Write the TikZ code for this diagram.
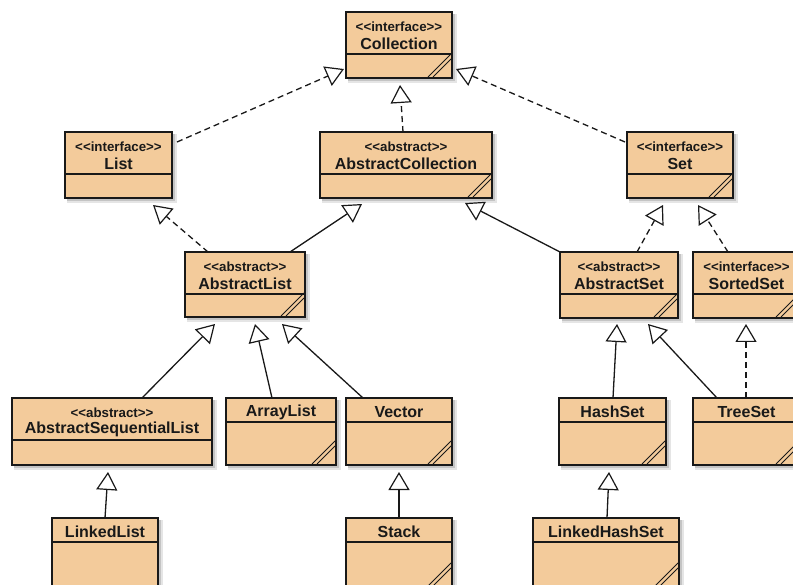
\documentclass[tikz,border=0pt]{standalone}
\usepackage{fontspec}
\setmainfont{Liberation Sans}
\usetikzlibrary{arrows.meta,calc}
\definecolor{boxfill}{RGB}{243,203,155}
\definecolor{ink}{RGB}{25,25,25}
\tikzset{
  thickcls/.style={draw=ink, fill=boxfill, line width=2.8pt, inner sep=0pt, outer sep=0pt, rectangle},
  thincls/.style={draw=ink, fill=boxfill, line width=1.3pt, inner sep=0pt, outer sep=0pt, rectangle},
  divline/.style={draw=ink, line width=1.1pt},
  hashline/.style={draw=ink, line width=0.8pt},
  stereotxt/.style={inner sep=0pt, text=ink, font=\fontsize{13.3}{15}\selectfont\bfseries},
  titletxt/.style={inner sep=0pt, text=ink, font=\fontsize{16}{18}\selectfont\bfseries},
  gen/.style={draw=ink, line width=1.3pt, -{Triangle[open, length=18pt, width=21pt, line width=1.2pt]}},
  real/.style={gen, dash pattern=on 6pt off 4pt},
  shadowA/.style={fill=black, opacity=0.14},
  shadowB/.style={fill=black, opacity=0.10}
}
\newcommand\ltlt{<\kern0pt<\kern0pt}
\newcommand\gtgt{\kern0pt>\kern0pt>}
% box: name, left, top, right, bottom, style
\newcommand\clsbox[6]{%
  \fill[shadowB] (#2+2,#3+2) rectangle (#4+5,#5+5);
  \fill[shadowA] (#2+2,#3+2) rectangle (#4+3,#5+3);
  \node[#6, anchor=north west, minimum width={#4-#2}, minimum height={#5-#3}] (#1) at (#2,#3) {};
}
% divider: name, offset from top
\newcommand\clsdiv[2]{%
  \draw[divline] ($(#1.north west)+(0,#2)$) -- ($(#1.north east)+(0,#2)$);
}
\newcommand\clshash[1]{%
  \draw[hashline] ($(#1.south east)+(-1,-24)$) -- ($(#1.south east)+(-24,-1)$);
  \draw[hashline] ($(#1.south east)+(-1,-19)$) -- ($(#1.south east)+(-19,-1)$);
}
% stereotyped class: name, stereotype, title
\newcommand\clsst[3]{%
  \node[stereotxt] (#1-st) at ($(#1.north)+(0,15)$) {\ltlt#2\gtgt};
  \node[titletxt] (#1-ti) at ($(#1.north)+(0,31.5)$) {#3};
  \clsdiv{#1}{42}
}
% plain class: name, title
\newcommand\clspl[2]{%
  \node[titletxt] (#1-ti) at ($(#1.north)+(0,14)$) {#2};
  \clsdiv{#1}{24}
}
\begin{document}
\begin{tikzpicture}[x=1pt, y=-1pt]
\useasboundingbox (0,0) rectangle (793,585);
\clip (0,0) rectangle (793,585);
\fill[white] (0,0) rectangle (793,585);

% row 0
\clsbox{coll}{346}{12}{452}{78}{thickcls}
\clsst{coll}{interface}{Collection}\clshash{coll}

% row 1
\clsbox{list}{65}{132}{172}{198}{thincls}
\clsst{list}{interface}{List}
\clsbox{abscoll}{320}{132}{492}{198}{thickcls}
\clsst{abscoll}{abstract}{AbstractCollection}\clshash{abscoll}
\clsbox{set}{627}{132}{733}{198}{thickcls}
\clsst{set}{interface}{Set}\clshash{set}

% row 2
\clsbox{abslist}{185}{252}{305}{317}{thickcls}
\clsst{abslist}{abstract}{AbstractList}\clshash{abslist}
\clsbox{absset}{560}{252}{678}{318}{thickcls}
\clsst{absset}{abstract}{AbstractSet}\clshash{absset}
\clsbox{sortedset}{693}{252}{800}{318}{thickcls}
\clsst{sortedset}{interface}{SortedSet}\clshash{sortedset}

% row 3
\clsbox{asl}{12}{398}{212}{465}{thincls}
\clsst{asl}{abstract}{AbstractSequentialList}
\clsbox{arraylist}{226}{398}{336}{465}{thickcls}
\clspl{arraylist}{ArrayList}\clshash{arraylist}
\clsbox{vector}{346}{398}{452}{465}{thickcls}
\clspl{vector}{Vector}\clshash{vector}
\clsbox{hashset}{559}{398}{666}{465}{thickcls}
\clspl{hashset}{HashSet}\clshash{hashset}
\clsbox{treeset}{693}{398}{800}{465}{thickcls}
\clspl{treeset}{TreeSet}\clshash{treeset}

% row 4
\clsbox{linkedlist}{52}{518}{158}{592}{thincls}
\clspl{linkedlist}{LinkedList}
\clsbox{stack}{346}{518}{452}{587}{thickcls}
\clspl{stack}{Stack}\clshash{stack}
\clsbox{lhs}{533}{518}{679}{587}{thickcls}
\clspl{lhs}{LinkedHashSet}\clshash{lhs}

% connectors
\draw[real] ($(list.north east)+(5,10)$) -- ($(coll.south west)+(-2,-9)$);
\draw[real] ($(set.north west)+(-2,10)$) -- ($(coll.south east)+(4,-9)$);
\draw[real] ($(abscoll.north)+(-3,0)$) -- ($(coll.south)+(1,7)$);
\draw[real] ($(abslist.north west)+(23,0)$) -- ($(list.south west)+(88,7)$);
\draw[gen] ($(abslist.north east)+(-15,0)$) -- ($(abscoll.south west)+(42,6)$);
\draw[gen] (absset.north west) -- ($(abscoll.south east)+(-27,5)$);
\draw[real] ($(absset.north west)+(77,0)$) -- ($(set.south west)+(36,7)$);
\draw[real] ($(sortedset.north west)+(35,0)$) -- ($(set.south east)+(-35,7)$);
\draw[gen] ($(asl.north west)+(130,0)$) -- ($(abslist.south west)+(30,7)$);
\draw[gen] ($(arraylist.north west)+(46,0)$) -- ($(abslist.south west)+(70,7)$);
\draw[gen] ($(vector.north west)+(17,0)$) -- ($(abslist.south east)+(-23,7)$);
\draw[gen] ($(hashset.north west)+(54,0)$) -- ($(absset.south west)+(57,6)$);
\draw[gen] ($(treeset.north west)+(24,0)$) -- ($(absset.south east)+(-30,6)$);
\draw[real] ($(treeset.north west)+(53,0)$) -- ($(sortedset.south west)+(53,6)$);
\draw[gen] ($(linkedlist.north west)+(53,0)$) -- ($(asl.south west)+(96,7)$);
\draw[gen] (stack.north) -- ($(vector.south)+(0,7)$);
\draw[gen] ($(lhs.north west)+(74,0)$) -- ($(hashset.south west)+(50,7)$);
\end{tikzpicture}
\end{document}
